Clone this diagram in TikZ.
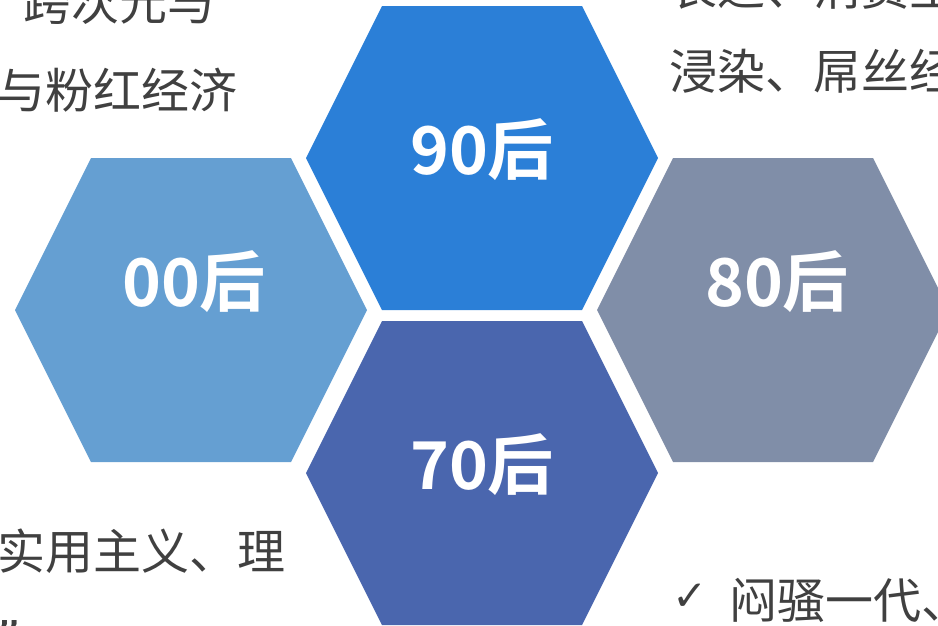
\documentclass[tikz,border=0pt]{standalone}
\usepackage{fontspec}
\newfontfamily\cjk{Noto Sans CJK SC}
\newfontfamily\cjkbold{Noto Sans CJK SC Bold}
\newfontfamily\symb{DejaVu Sans Bold}
\newfontfamily\latinq{DejaVu Sans}
\definecolor{c90}{HTML}{2B7FD7}
\definecolor{c00}{HTML}{659FD2}
\definecolor{c80}{HTML}{808EA8}
\definecolor{c70}{HTML}{4A66AE}
\definecolor{txt}{HTML}{404040}
\tikzset{
  hexpic/.pic={\fill[pic actions] (-176,0) -- (-100,-152) -- (100,-152) -- (176,0) -- (100,152) -- (-100,152) -- cycle;},
  biglabel/.style={inner sep=0pt, text=white, font=\cjkbold\fontsize{66}{70}\selectfont},
  bodytext/.style={inner sep=0pt, anchor=base west, text=txt, font=\cjk\fontsize{48}{52}\selectfont},
}
\begin{document}
\begin{tikzpicture}[x=1pt,y=-1pt]
\useasboundingbox (0,0) rectangle (938,625);
\clip (0,0) rectangle (938,625);
% hexagons
\coordinate (h90) at (482,158);
\coordinate (h00) at (191,310);
\coordinate (h80) at (773,310);
\coordinate (h70) at (482,473);
\pic[fill=c90] at (h90) {hexpic};
\pic[fill=c00] at (h00) {hexpic};
\pic[fill=c80] at (h80) {hexpic};
\pic[fill=c70] at (h70) {hexpic};
% labels
\node[biglabel] (l90) at (482,150) {90后};
\node[biglabel] (l00) at (194,282) {00后};
\node[biglabel] (l80) at (777,282) {80后};
\node[biglabel] (l70) at (482,465) {70后};
% surrounding text
\node[bodytext] (tl1) at (23,20) {跨次元与};
\node[bodytext] (tl2) at (-3,108) {与粉红经济};
\node[bodytext] (tr1) at (669,5) {表达、消费主};
\node[bodytext] (tr2) at (669,89) {浸染、屌丝经};
\node[bodytext] (bl1) at (-3,569) {实用主义、理};
\node[inner sep=0pt, anchor=base east, text=txt, font=\latinq\fontsize{48}{52}\selectfont] (bl2) at (22,655) {”};
\node[inner sep=0pt, anchor=base west, text=txt, font=\symb\fontsize{42}{46}\selectfont] (chk) at (672,610) {✓};
\node[bodytext] (br1) at (729,618) {闷骚一代、};
\end{tikzpicture}
\end{document}
